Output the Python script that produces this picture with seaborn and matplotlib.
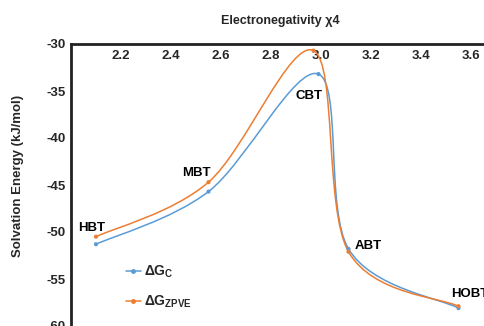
import numpy as np
import pandas as pd
import seaborn as sns
import matplotlib
matplotlib.use("Agg")
import matplotlib.pyplot as plt
from matplotlib.path import Path
from matplotlib.patches import PathPatch
from matplotlib.lines import Line2D

molecules = ["HBT", "MBT", "CBT", "ABT", "HOBT"]
x_c = [2.10, 2.55, 2.99, 3.11, 3.55]
x_zpve = [2.10, 2.55, 2.97, 3.11, 3.55]
dG_c = [-51.3, -45.7, -33.2, -51.8, -58.1]
dG_zpve = [-50.5, -44.7, -30.7, -52.1, -57.9]
x_ticks = [2.2, 2.4, 2.6, 2.8, 3.0, 3.2, 3.4, 3.6]
y_ticks = [-30, -35, -40, -45, -50, -55, -60]

blue = "#5B9BD5"
orange = "#ED7D31"

sns.set_style("white")
plt.rcParams["font.family"] = ["Liberation Sans", "DejaVu Sans"]
plt.rcParams["mathtext.fontset"] = "custom"
plt.rcParams["mathtext.rm"] = "Liberation Sans"
plt.rcParams["mathtext.bf"] = "Liberation Sans:bold"

W, H = 484, 326
fig = plt.figure(figsize=(W / 100, H / 100), dpi=100)
left_px, top_px = 71, 44
xlim = (2.0, 3.7)
ylim = (-61.0, -30.0)
px_per_x = 250.0
px_per_y = 9.4
aw = (xlim[1] - xlim[0]) * px_per_x
ah = (ylim[1] - ylim[0]) * px_per_y
ax = fig.add_axes([left_px / W, (H - top_px - ah) / H, aw / W, ah / H])


def smooth_path(xs, ys):
    pts = np.column_stack([xs, ys])
    n = len(pts)
    verts = [pts[0]]
    codes = [Path.MOVETO]
    for i in range(n - 1):
        p0 = pts[i - 1] if i > 0 else pts[i]
        p1 = pts[i]
        p2 = pts[i + 1]
        p3 = pts[i + 2] if i + 2 < n else pts[i + 1]
        c1 = p1 + (p2 - p0) / 6.0
        c2 = p2 - (p3 - p1) / 6.0
        verts += [c1, c2, p2]
        codes += [Path.CURVE4] * 3
    return Path(verts, codes)


for xs, ys, col in [(x_c, dG_c, blue), (x_zpve, dG_zpve, orange)]:
    ax.add_patch(PathPatch(smooth_path(xs, ys), fill=False, edgecolor=col, lw=1.1))

df = pd.DataFrame({
    "x": x_c + x_zpve,
    "y": dG_c + dG_zpve,
    "series": ["c"] * len(x_c) + ["z"] * len(x_zpve),
})
sns.scatterplot(data=df, x="x", y="y", hue="series", palette={"c": blue, "z": orange},
                s=9, linewidth=0, legend=False, ax=ax, zorder=3)

# labels
offsets = {"HBT": (-4, 16, "center"), "MBT": (-12, 19, "center"), "CBT": (-9, -22, "center"),
           "ABT": (6, 3, "left"), "HOBT": (-7, 14, "left")}
for m, xv, yv in zip(molecules, x_c, dG_c):
    dx, dy, ha = offsets[m]
    ax.annotate(m, (xv, yv), xytext=(dx, dy), textcoords="offset pixels",
                ha=ha, va="center", fontsize=9.5, fontweight="bold", color="black")

ax.set_xlim(*xlim)
ax.set_ylim(*ylim)
ax.xaxis.tick_top()
ax.set_xticks(x_ticks)
ax.set_xticklabels([f"{v:.1f}" for v in x_ticks])
ax.set_yticks(y_ticks)
ax.set_yticklabels([f"{v}" for v in y_ticks])
ax.tick_params(axis="x", length=0, pad=-13, labelsize=9.5)
ax.tick_params(axis="y", length=0, pad=4, labelsize=9.5)
for lab in ax.get_xticklabels() + ax.get_yticklabels():
    lab.set_fontweight("bold")
ax.set_xlabel("")
ax.set_ylabel("Solvation Energy (kJ/mol)", fontsize=9.5, fontweight="bold")
ax.yaxis.set_label_coords((24 - left_px) / aw, 1 - (176 - top_px) / ah)
fig.text(280 / W, 1 - 21 / H, "Electronegativity χ4", ha="center", va="center",
         fontsize=9, fontweight="bold")

for s in ["right", "bottom"]:
    ax.spines[s].set_visible(False)
for s in ["left", "top"]:
    ax.spines[s].set_color("#222222")
    ax.spines[s].set_linewidth(2)

handles = [
    Line2D([0], [0], color=blue, lw=1.1, marker="o", markersize=2.5),
    Line2D([0], [0], color=orange, lw=1.1, marker="o", markersize=2.5),
]
leg = fig.legend(handles, ["ΔG$_{\\mathbf{C}}$", "ΔG$_{\\mathbf{ZPVE}}$"],
                 loc="upper left", bbox_to_anchor=(120 / W, 1 - 258 / H),
                 frameon=False, fontsize=10, handlelength=1.1, handletextpad=0.2,
                 labelspacing=1.0, borderaxespad=0)
for t in leg.get_texts():
    t.set_fontweight("bold")

fig.savefig("out.png", dpi=100)
